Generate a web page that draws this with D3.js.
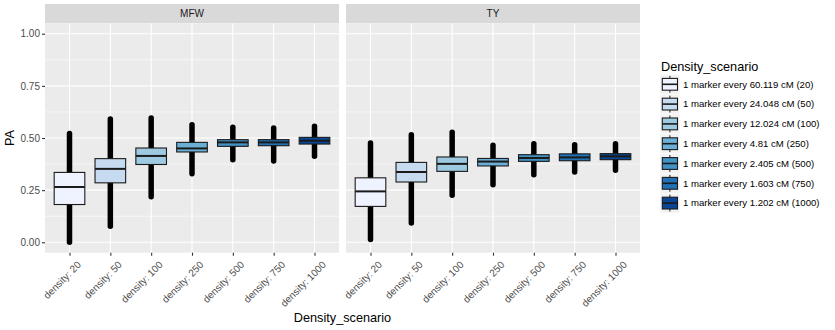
<!DOCTYPE html>
<html>
<head>
<meta charset="utf-8">
<script src="https://cdn.jsdelivr.net/npm/d3@7"></script>
<style>
  body { margin: 0; background: #fff; }
  svg { display: block; font-family: "Liberation Sans", Arial, sans-serif; }
</style>
</head>
<body>
<div id="chart"></div>
<script>
/* ---------------- datos ---------------- */
const densities = [20, 50, 100, 250, 500, 750, 1000];
const tickLabels = densities.map(d => "density: " + d);
const legendLabels = [
  "1 marker every 60.119 cM (20)",
  "1 marker every 24.048 cM (50)",
  "1 marker every 12.024 cM (100)",
  "1 marker every 4.81 cM (250)",
  "1 marker every 2.405 cM (500)",
  "1 marker every 1.603 cM (750)",
  "1 marker every 1.202 cM (1000)"
];
const facets = ["MFW", "TY"];
const yTicks = [0, 0.25, 0.5, 0.75, 1];

// MFW
const mfwMin = [0.000, 0.077, 0.218, 0.329, 0.396, 0.390, 0.412];
const mfwQ1  = [0.181, 0.285, 0.373, 0.433, 0.460, 0.463, 0.471];
const mfwMed = [0.265, 0.352, 0.414, 0.450, 0.479, 0.479, 0.487];
const mfwQ3  = [0.335, 0.401, 0.452, 0.479, 0.492, 0.492, 0.503];
const mfwMax = [0.522, 0.591, 0.596, 0.564, 0.551, 0.548, 0.556];
// TY
const tyMin = [0.013, 0.093, 0.225, 0.276, 0.324, 0.337, 0.345];
const tyQ1  = [0.172, 0.289, 0.340, 0.366, 0.388, 0.391, 0.396];
const tyMed = [0.244, 0.337, 0.376, 0.387, 0.404, 0.407, 0.412];
const tyQ3  = [0.309, 0.383, 0.409, 0.402, 0.420, 0.424, 0.425];
const tyMax = [0.476, 0.516, 0.527, 0.465, 0.473, 0.468, 0.473];

const fills = ["#EFF3FF", "#C6DBEF", "#9ECAE1", "#6BAED6", "#4292C6", "#2171B5", "#084594"];

const facetData = {
  MFW: densities.map((d, i) => ({ cat: tickLabels[i], min: mfwMin[i], q1: mfwQ1[i], med: mfwMed[i], q3: mfwQ3[i], max: mfwMax[i], i })),
  TY:  densities.map((d, i) => ({ cat: tickLabels[i], min: tyMin[i], q1: tyQ1[i], med: tyMed[i], q3: tyQ3[i], max: tyMax[i], i }))
};

/* ---------------- layout ---------------- */
const W = 835, H = 330;
const panelTop = 23.3, panelBottom = 252.7, stripTop = 4;
const panelX = { MFW: [45, 339], TY: [346, 640] };

const svg = d3.select("#chart").append("svg").attr("width", W).attr("height", H);

const y = d3.scaleLinear().domain([-0.05, 1.05]).range([panelBottom, panelTop]);
const color = d3.scaleOrdinal().domain(tickLabels).range(fills);

facets.forEach((f, fi) => {
  const [x0, x1] = panelX[f];
  const x = d3.scalePoint().domain(tickLabels).range([x0, x1]).padding(0.6);
  const bw = x.step() * 0.75;
  const g = svg.append("g");

  // strip
  g.append("rect").attr("x", x0).attr("y", stripTop).attr("width", x1 - x0)
    .attr("height", panelTop - stripTop).attr("fill", "#D9D9D9");
  g.append("text").attr("x", (x0 + x1) / 2).attr("y", (stripTop + panelTop) / 2)
    .attr("dy", "0.35em").attr("text-anchor", "middle")
    .attr("font-size", 10).attr("fill", "#1A1A1A").text(f);

  // panel
  g.append("rect").attr("x", x0).attr("y", panelTop).attr("width", x1 - x0)
    .attr("height", panelBottom - panelTop).attr("fill", "#EBEBEB");

  // grid menor
  g.selectAll(".minor").data([0.125, 0.375, 0.625, 0.875]).enter().append("line")
    .attr("x1", x0).attr("x2", x1).attr("y1", d => y(d)).attr("y2", d => y(d))
    .attr("stroke", "#fff").attr("stroke-width", 0.55);
  // grid mayor
  g.selectAll(".majorY").data(yTicks).enter().append("line")
    .attr("x1", x0).attr("x2", x1).attr("y1", d => y(d)).attr("y2", d => y(d))
    .attr("stroke", "#fff").attr("stroke-width", 1.1);
  g.selectAll(".majorX").data(tickLabels).enter().append("line")
    .attr("x1", d => x(d)).attr("x2", d => x(d)).attr("y1", panelTop).attr("y2", panelBottom)
    .attr("stroke", "#fff").attr("stroke-width", 1.1);

  const data = facetData[f];

  // puntos (rango completo) como línea gruesa
  g.selectAll(".pts").data(data).enter().append("line")
    .attr("x1", d => x(d.cat)).attr("x2", d => x(d.cat))
    .attr("y1", d => y(d.min)).attr("y2", d => y(d.max))
    .attr("stroke", "#000").attr("stroke-width", 5.5).attr("stroke-linecap", "round");

  // cajas
  g.selectAll(".box").data(data).enter().append("rect")
    .attr("x", d => x(d.cat) - bw / 2).attr("width", bw)
    .attr("y", d => y(d.q3)).attr("height", d => y(d.q1) - y(d.q3))
    .attr("fill", d => color(d.cat)).attr("stroke", "#1A1A1A").attr("stroke-width", 1.1);
  g.selectAll(".med").data(data).enter().append("line")
    .attr("x1", d => x(d.cat) - bw / 2).attr("x2", d => x(d.cat) + bw / 2)
    .attr("y1", d => y(d.med)).attr("y2", d => y(d.med))
    .attr("stroke", "#1A1A1A").attr("stroke-width", 2);

  // eje x
  const xAxis = g.append("g").attr("transform", `translate(0,${panelBottom})`)
    .call(d3.axisBottom(x).tickSize(3).tickSizeOuter(0).tickPadding(3));
  xAxis.select(".domain").remove();
  xAxis.selectAll(".tick line").attr("stroke", "#333").attr("stroke-width", 1.1);
  xAxis.selectAll(".tick text")
    .attr("font-size", 10).attr("fill", "#4D4D4D").attr("font-family", "Liberation Sans, Arial, sans-serif")
    .attr("text-anchor", "end").attr("dy", "0.35em")
    .attr("transform", "translate(5,6) rotate(-45)");

  // eje y solo en el primer panel
  if (fi === 0) {
    const yAxis = g.append("g").attr("transform", `translate(${x0},0)`)
      .call(d3.axisLeft(y).tickValues(yTicks).tickFormat(d3.format(".2f")).tickSize(3).tickPadding(2));
    yAxis.select(".domain").remove();
    yAxis.selectAll(".tick line").attr("stroke", "#333").attr("stroke-width", 1.1);
    yAxis.selectAll(".tick text").attr("font-size", 10).attr("fill", "#4D4D4D")
      .attr("font-family", "Liberation Sans, Arial, sans-serif");
  }
});

// títulos de ejes
svg.append("text").attr("x", (45 + 640) / 2).attr("y", 322).attr("text-anchor", "middle")
  .attr("font-size", 12.7).attr("fill", "#000").text("Density_scenario");
svg.append("text").attr("transform", `translate(14,${(panelTop + panelBottom) / 2}) rotate(-90)`)
  .attr("text-anchor", "middle").attr("font-size", 12.7).attr("fill", "#000").text("PA");

/* ---------------- leyenda ---------------- */
const legend = svg.append("g").attr("transform", "translate(660,0)");
legend.append("text").attr("x", 1).attr("y", 71).attr("font-size", 12.7).attr("fill", "#000")
  .text("Density_scenario");
const keyH = 19.8, keyTop = 74.4;
const rows = legend.selectAll(".key").data(legendLabels).enter().append("g")
  .attr("transform", (d, i) => `translate(0,${keyTop + i * keyH})`);
rows.append("rect").attr("x", 0).attr("y", 0).attr("width", 19.8).attr("height", keyH)
  .attr("fill", "#F2F2F2").attr("stroke", "#fff").attr("stroke-width", 0.5);
rows.append("line").attr("x1", 9.9).attr("x2", 9.9).attr("y1", 1.5).attr("y2", keyH - 1.5)
  .attr("stroke", "#1A1A1A").attr("stroke-width", 1);
rows.append("rect").attr("x", 2.3).attr("y", 4).attr("width", 15.2).attr("height", keyH - 8)
  .attr("fill", (d, i) => fills[i]).attr("stroke", "#1A1A1A").attr("stroke-width", 1.1);
rows.append("line").attr("x1", 2.3).attr("x2", 17.5).attr("y1", keyH / 2).attr("y2", keyH / 2)
  .attr("stroke", "#1A1A1A").attr("stroke-width", 1.6);
rows.append("text").attr("x", 23).attr("y", keyH / 2).attr("dy", "0.35em")
  .attr("font-size", 9.6).attr("fill", "#000").text(d => d);
</script>
</body>
</html>
